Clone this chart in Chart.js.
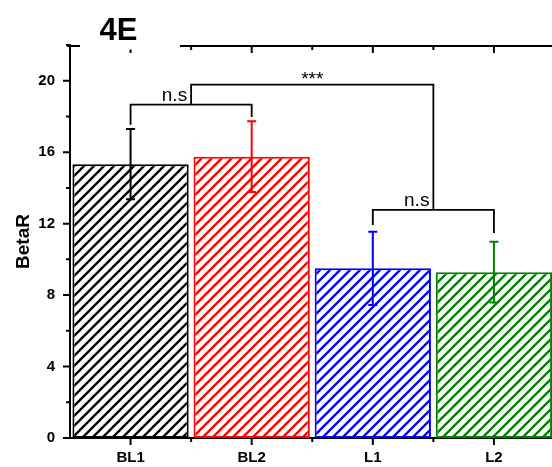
<!DOCTYPE html>
<html>
<head>
<meta charset="utf-8">
<script src="https://cdn.jsdelivr.net/npm/chart.js@4.4.1/dist/chart.umd.min.js"></script>
<style>
  html, body { margin: 0; padding: 0; overflow: hidden; background: #fff; width: 552px; height: 467px; }
  #wrap { width: 556px; height: 467px; }
  canvas { display: block; }
</style>
</head>
<body>
<div id="wrap"><canvas id="chart" width="556" height="467"></canvas></div>
<script>
// Group labels and BetaR means with their error-bar half widths
const groups = ['BL1', 'BL2', 'L1', 'L2'];
const betaR = [15.33, 15.75, 9.50, 9.28];
const betaErr = [1.97, 1.98, 2.05, 1.70];
const barColors = ['#000000', '#ff0000', '#0000ff', '#008000'];
const yMajorTicks = [0, 4, 8, 12, 16, 20];
const yMinorTicks = [2, 6, 10, 14, 18, 22];
const panelLabel = '4E';

// Significance brackets: x span (category index), bracket level, leg ends, label
const bracketFrom = [0, 2, 0.5];
const bracketTo = [1, 3, 2.5];
const bracketLevel = [18.66, 12.77, 19.78];
const bracketLegFrom = [17.53, 11.92, 18.66];
const bracketLegTo = [17.97, 11.48, 12.77];
const bracketText = ['n.s', 'n.s', '***'];

const FONT = "'Liberation Sans', Arial, Helvetica, sans-serif";

// Diagonal hatch fill on white
function hatch(color) {
  const s = 10;
  const c = document.createElement('canvas');
  c.width = s; c.height = s;
  const g = c.getContext('2d');
  g.fillStyle = '#fff';
  g.fillRect(0, 0, s, s);
  g.strokeStyle = color;
  g.lineWidth = 2.3;
  g.beginPath();
  for (const k of [0, s, 2 * s]) {
    g.moveTo(k + 2, -2);
    g.lineTo(k - s - 2, s + 2);
  }
  g.stroke();
  return g.createPattern(c, 'repeat');
}

// Axis tick marks: left (outward), bottom (outward), top frame line (inward)
const axisMarks = {
  id: 'axisMarks',
  afterDraw(chart) {
    const { ctx, chartArea: a, scales: { x, y } } = chart;
    ctx.save();
    ctx.strokeStyle = '#000';
    ctx.lineWidth = 2;
    ctx.beginPath();
    yMajorTicks.forEach(v => { const p = y.getPixelForValue(v); ctx.moveTo(a.left - 7, p); ctx.lineTo(a.left, p); });
    yMinorTicks.forEach(v => { const p = y.getPixelForValue(v); ctx.moveTo(a.left - 4, p); ctx.lineTo(a.left, p); });
    groups.forEach((g, i) => {
      const p = x.getPixelForValue(i);
      ctx.moveTo(p, a.bottom); ctx.lineTo(p, a.bottom + 7);
      ctx.moveTo(p, a.top); ctx.lineTo(p, a.top + 8);
      const b = x.getPixelForValue(i - 0.5);
      if (i > 0) {
        ctx.moveTo(b, a.bottom); ctx.lineTo(b, a.bottom + 4);
        ctx.moveTo(b, a.top); ctx.lineTo(b, a.top + 5);
      }
    });
    // top frame line
    ctx.moveTo(a.left - 3, a.top + 1);
    ctx.lineTo(a.right + 2, a.top + 1);
    ctx.stroke();

    // panel label over a white backing
    ctx.fillStyle = '#fff';
    ctx.fillRect(80, 0, 100, 49.5);
    ctx.fillStyle = '#000';
    ctx.font = 'bold 31px ' + FONT;
    ctx.textAlign = 'center';
    ctx.textBaseline = 'alphabetic';
    ctx.fillText(panelLabel, 118.5, 40);
    ctx.restore();
  }
};

// Error bars and significance brackets
const annotations = {
  id: 'annotations',
  afterDatasetsDraw(chart) {
    const { ctx, scales: { x, y } } = chart;
    ctx.save();
    ctx.lineWidth = 2;
    betaR.forEach((m, i) => {
      const px = x.getPixelForValue(i);
      const top = y.getPixelForValue(m + betaErr[i]);
      const bot = y.getPixelForValue(m - betaErr[i]);
      ctx.strokeStyle = barColors[i];
      ctx.beginPath();
      ctx.moveTo(px, top); ctx.lineTo(px, bot);
      ctx.moveTo(px - 4.5, top); ctx.lineTo(px + 4.5, top);
      ctx.moveTo(px - 4.5, bot); ctx.lineTo(px + 4.5, bot);
      ctx.stroke();
    });

    ctx.strokeStyle = '#000';
    ctx.fillStyle = '#000';
    ctx.lineWidth = 1.8;
    bracketText.forEach((t, i) => {
      const x0 = x.getPixelForValue(bracketFrom[i]);
      const x1 = x.getPixelForValue(bracketTo[i]);
      const lv = y.getPixelForValue(bracketLevel[i]);
      ctx.beginPath();
      ctx.moveTo(x0, y.getPixelForValue(bracketLegFrom[i]));
      ctx.lineTo(x0, lv);
      ctx.lineTo(x1, lv);
      ctx.lineTo(x1, y.getPixelForValue(bracketLegTo[i]));
      ctx.stroke();
      const mid = (x0 + x1) / 2;
      ctx.font = '19px ' + FONT;
      if (t === '***') {
        ctx.textAlign = 'center';
        ctx.textBaseline = 'middle';
        ctx.fillText(t, mid, lv - 4.5);
      } else {
        ctx.textAlign = 'right';
        ctx.textBaseline = 'alphabetic';
        ctx.fillText(t, mid - 4, lv - 4);
      }
    });
    ctx.restore();
  }
};

new Chart(document.getElementById('chart'), {
  type: 'bar',
  data: {
    labels: groups,
    datasets: [{
      data: betaR,
      backgroundColor: barColors.map(hatch),
      borderColor: barColors,
      borderWidth: 2,
      borderSkipped: false,
      categoryPercentage: 1,
      barPercentage: 0.96
    }]
  },
  options: {
    responsive: false,
    animation: false,
    devicePixelRatio: 1,
    layout: { padding: { top: 45, right: 1.5, left: 0, bottom: 0 } },
    plugins: { legend: { display: false }, tooltip: { enabled: false } },
    scales: {
      x: {
        type: 'category',
        offset: true,
        grid: { display: false, drawTicks: false },
        border: { display: true, color: '#000', width: 2 },
        ticks: { color: '#000', font: { family: FONT, size: 15, weight: 'bold' }, padding: 11, maxRotation: 0 },
        afterFit(scale) { scale.height = 29; }
      },
      y: {
        min: 0,
        max: 22,
        grid: { display: false, drawTicks: false },
        border: { display: true, color: '#000', width: 2 },
        ticks: {
          stepSize: 4,
          includeBounds: false,
          color: '#000',
          font: { family: FONT, size: 15, weight: 'bold' },
          padding: 15
        },
        title: {
          display: true,
          text: 'BetaR',
          color: '#000',
          font: { family: FONT, size: 19, weight: 'bold' },
          padding: { top: 12, bottom: 0 }
        },
        afterFit(scale) { scale.width = 70; }
      }
    }
  },
  plugins: [annotations, axisMarks]
});
</script>
</body>
</html>
